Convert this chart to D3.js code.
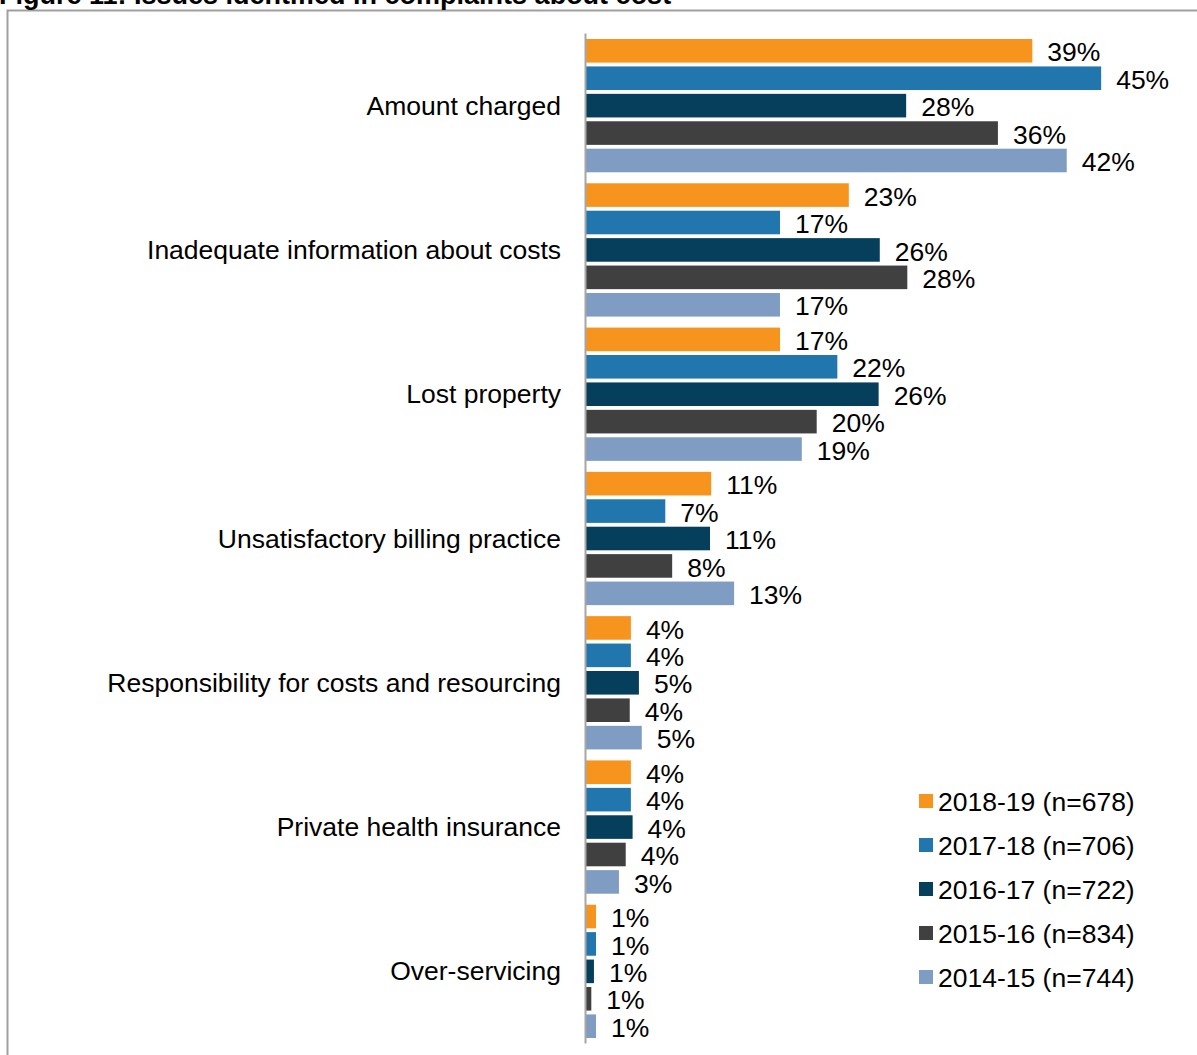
<!DOCTYPE html>
<html>
<head>
<meta charset="utf-8">
<script src="https://cdn.jsdelivr.net/npm/d3@7"></script>
<style>
  html, body { margin: 0; padding: 0; background: #fff; }
  svg { display: block; font-family: "Liberation Sans", Arial, sans-serif; }
</style>
</head>
<body>
<svg id="chart" width="1197" height="1055"></svg>
<script>
// Issue categories, top to bottom
const categories = [
  "Amount charged",
  "Inadequate information about costs",
  "Lost property",
  "Unsatisfactory billing practice",
  "Responsibility for costs and resourcing",
  "Private health insurance",
  "Over-servicing"
];

// Reporting years (legend order = bar order within each group)
const seriesNames = [
  "2018-19 (n=678)",
  "2017-18 (n=706)",
  "2016-17 (n=722)",
  "2015-16 (n=834)",
  "2014-15 (n=744)"
];
const seriesColors = ["#F7941D", "#2176AE", "#063F5C", "#404040", "#7F9DC3"];

// Share of cost complaints (%) per category, one array per year
const values2018_19 = [39.0, 23.0, 17.0, 11.0, 4.0, 4.0, 0.96];
const values2017_18 = [45.0, 17.0, 22.0, 7.0, 4.0, 4.0, 0.96];
const values2016_17 = [28.0, 25.7, 25.6, 10.9, 4.7, 4.15, 0.78];
const values2015_16 = [36.0, 28.1, 20.2, 7.6, 3.9, 3.55, 0.55];
const values2014_15 = [42.0, 17.0, 18.9, 13.0, 4.95, 2.96, 0.96];
const seriesValues = [values2018_19, values2017_18, values2016_17, values2015_16, values2014_15];

const titleText = "Figure 11: Issues identified in complaints about cost";

const svg = d3.select("#chart");
const fontSize = 26.5;

// Frame around the figure
svg.append("path")
  .attr("d", "M7.5,1055 L7.5,10.5 L1197,10.5")
  .attr("fill", "none")
  .attr("stroke", "#a0a0a0")
  .attr("stroke-width", 2);

// Title
svg.append("text")
  .attr("x", -1)
  .attr("y", 4)
  .attr("font-size", 27)
  .attr("font-weight", "bold")
  .attr("fill", "#000")
  .text(titleText);

// Scales
const x = d3.scaleLinear().domain([0, 50]).range([585, 585 + 573.5]);
const y0 = d3.scaleBand().domain(categories).range([33, 1043]).padding(0);
const y1 = d3.scaleBand().domain(d3.range(seriesNames.length))
  .range([6, y0.bandwidth() - 5]).paddingInner(0.14).paddingOuter(0);

const fmt = d3.format(".0f");

// Bars and value labels
const groups = svg.append("g").selectAll("g")
  .data(categories)
  .join("g")
  .attr("transform", d => `translate(0,${y0(d)})`);

groups.each(function(cat, ci) {
  const g = d3.select(this);
  const rows = seriesValues.map((arr, si) => ({ si, v: arr[ci] }));
  g.selectAll("rect")
    .data(rows)
    .join("rect")
    .attr("x", x(0))
    .attr("y", d => y1(d.si))
    .attr("width", d => x(d.v) - x(0))
    .attr("height", y1.bandwidth())
    .attr("fill", d => seriesColors[d.si]);
  g.selectAll("text")
    .data(rows)
    .join("text")
    .attr("x", d => x(d.v) + 15)
    .attr("y", d => y1(d.si) + y1.bandwidth() / 2)
    .attr("dy", "0.4em")
    .attr("font-size", fontSize)
    .attr("fill", "#000")
    .text(d => fmt(d.v) + "%");
});

// Category axis
const axis = svg.append("g")
  .attr("transform", `translate(${x(0)},0)`)
  .call(d3.axisLeft(y0).tickSize(0).tickPadding(24));
axis.select(".domain").attr("stroke", "#a6a6a6").attr("stroke-width", 2);
axis.selectAll("text")
  .attr("font-size", fontSize)
  .attr("font-family", "'Liberation Sans', Arial, sans-serif")
  .attr("fill", "#000")
  .attr("dy", "0.36em");

// Legend
const legend = svg.append("g").selectAll("g")
  .data(seriesNames)
  .join("g")
  .attr("transform", (d, i) => `translate(919,${801 + i * 44})`);
legend.append("rect")
  .attr("x", 0).attr("y", -7)
  .attr("width", 14).attr("height", 14)
  .attr("fill", (d, i) => seriesColors[i]);
legend.append("text")
  .attr("x", 19)
  .attr("y", 0)
  .attr("dy", "0.36em")
  .attr("font-size", fontSize)
  .attr("fill", "#000")
  .text(d => d);
</script>
</body>
</html>
